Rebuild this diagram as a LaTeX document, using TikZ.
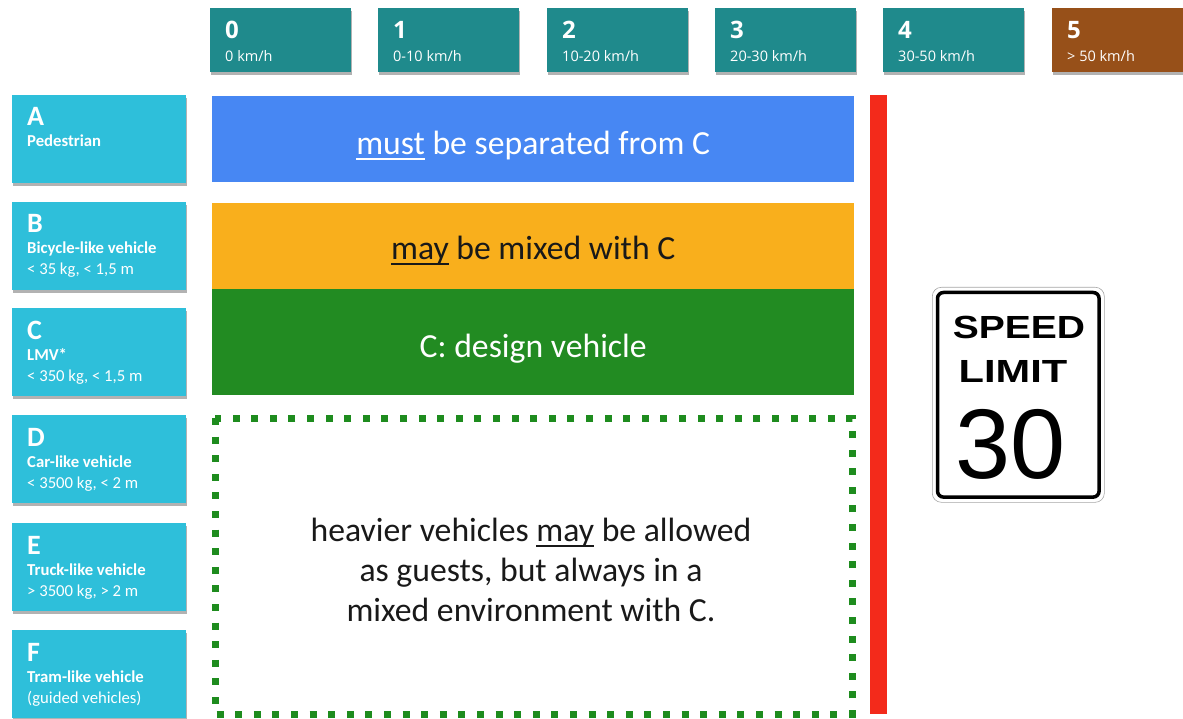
\documentclass[tikz,border=0pt]{standalone}
\usepackage{fontspec}
\setmainfont{Carlito}
\newfontfamily\osans{Open Sans}
\newfontfamily\sgnfont{Liberation Sans}
\usetikzlibrary{calc,shadows}
\definecolor{tealbox}{HTML}{1F8A8C}
\definecolor{brownbox}{HTML}{975019}
\definecolor{cyanbox}{HTML}{2EBFDA}
\definecolor{bluebar}{HTML}{4787F3}
\definecolor{orangebar}{HTML}{F9AF1C}
\definecolor{greenbar}{HTML}{228B22}
\definecolor{dotgreen}{HTML}{1E8C1E}
\definecolor{redbar}{HTML}{F32A1B}
\newcommand\uln[1]{\setbox0=\hbox{#1}\rlap{\vrule width\wd0 height -0.1em depth 0.15em}\box0\relax}
\tikzset{
  shd/.style={drop shadow={shadow xshift=1.2pt, shadow yshift=-2.5pt, fill=black, opacity=0.3}},
  spdbox/.style={fill=tealbox, minimum width=141pt, minimum height=64pt, anchor=north west, inner sep=0pt, shd},
  catbox/.style={fill=cyanbox, minimum width=174pt, minimum height=88pt, anchor=north west, inner sep=0pt, shd},
  bignum/.style={anchor=base west, inner sep=0pt, text=white, font=\osans\bfseries\fontsize{24}{28}\selectfont},
  smallnum/.style={anchor=base west, inner sep=0pt, text=white, font=\osans\fontsize{14.5}{17}\selectfont},
  bigl/.style={anchor=base west, inner sep=0pt, text=white, font=\bfseries\fontsize{28}{32}\selectfont},
  smalll/.style={anchor=base west, inner sep=0pt, text=white, font=\fontsize{16.7}{19}\selectfont},
  boldl/.style={anchor=base west, inner sep=0pt, text=white, font=\bfseries\fontsize{16.7}{19}\selectfont},
  barbox/.style={minimum width=642pt, anchor=north west, inner sep=0pt},
  bartxt/.style={inner sep=0pt, font=\fontsize{33.7}{40}\selectfont},
  sgntxt/.style={anchor=base, inner sep=0pt, font=\sgnfont}
}
\begin{document}
\begin{tikzpicture}[x=1pt,y=-1pt]
\useasboundingbox (0,0) rectangle (1183,719);
\clip (0,0) rectangle (1183,719);
% speed class boxes
\node[spdbox] (s0) at (210,8) {};
\node[spdbox] (s1) at (378,8) {};
\node[spdbox] (s2) at (547,8) {};
\node[spdbox] (s3) at (715,8) {};
\node[spdbox] (s4) at (883,8) {};
\node[spdbox, fill=brownbox] (s5) at (1052,8) {};
\foreach \n/\a/\b in {s0/0/0 km\slash h, s1/1/0-10 km\slash h, s2/2/10-20 km\slash h, s3/3/20-30 km\slash h, s4/4/30-50 km\slash h, s5/5/> 50 km\slash h}{
  \node[bignum] at ($(\n.north west)+(15,31)$) {\a};
  \node[smallnum] at ($(\n.north west)+(15,54)$) {\b};
}
% category boxes
\node[catbox] (ca) at (12,95) {};
\node[catbox] (cb) at (12,202) {};
\node[catbox] (cc) at (12,308) {};
\node[catbox] (cd) at (12,415) {};
\node[catbox] (ce) at (12,523) {};
\node[catbox] (cf) at (12,630) {};
\foreach \n/\a/\b/\c in {ca/A/Pedestrian/{}, cb/B/Bicycle-like vehicle/{< 35 kg, < 1,5 m}, cc/C/LMV*/{< 350 kg, < 1,5 m}, cd/D/Car-like vehicle/{< 3500 kg, < 2 m}, ce/E/Truck-like vehicle/{> 3500 kg, > 2 m}, cf/F/Tram-like vehicle/{(guided vehicles)}}{
  \node[bigl] at ($(\n.north west)+(15,31)$) {\a};
  \node[boldl] at ($(\n.north west)+(15,52)$) {\b};
  \node[smalll] at ($(\n.north west)+(15,73)$) {\c};
}
% bars
\node[barbox, fill=bluebar, minimum height=86pt] (blue) at (212,96) {};
\node[barbox, fill=orangebar, minimum height=86pt] (orange) at (212,203) {};
\node[barbox, fill=greenbar, minimum height=106pt] (green) at (212,289) {};
\node[bartxt, text=white, anchor=base] at ($(blue.north)+(0,58.5)$) {\uln{must} be separated from C};
\node[bartxt, text=black!90, anchor=base] at ($(orange.north)+(0,57)$) {\uln{may} be mixed with C};
\node[bartxt, text=white, anchor=base] at ($(green.north)+(0,68)$) {C: design vehicle};
% dotted guest area
\draw[dotgreen, line width=7pt, dash pattern=on 7pt off 11.6pt] (215,418) rectangle (852,714);
\node[bartxt, align=center, text=black!90] (guest) at (531,570) {heavier vehicles \uln{may} be allowed\\as guests, but always in a\\mixed environment with C.};
% red limit bar
\node[fill=redbar, minimum width=17pt, minimum height=619pt, anchor=north west, inner sep=0pt] (red) at (870,95) {};
% speed limit sign
\node[draw=black!35, line width=0.6pt, fill=white, rounded corners=9pt, minimum width=172pt, minimum height=215pt, anchor=north west, inner sep=0pt] (sign) at (932,287) {};
\draw[black, line width=3.5pt, rounded corners=6pt] ($(sign.north west)+(5.5,5.5)$) rectangle ($(sign.south east)+(-5.5,-5.5)$);
\node[sgntxt, font=\sgnfont\bfseries\fontsize{32}{36}\selectfont] at (1019,338) {\scalebox{1.22}[1]{SPEED}};
\node[sgntxt, font=\sgnfont\bfseries\fontsize{32}{36}\selectfont] at (1013,382) {\scalebox{1.3}[1]{LIMIT}};
\node[sgntxt, font=\sgnfont\fontsize{99}{100}\selectfont] at (1011,478) {30};
\end{tikzpicture}
\end{document}
